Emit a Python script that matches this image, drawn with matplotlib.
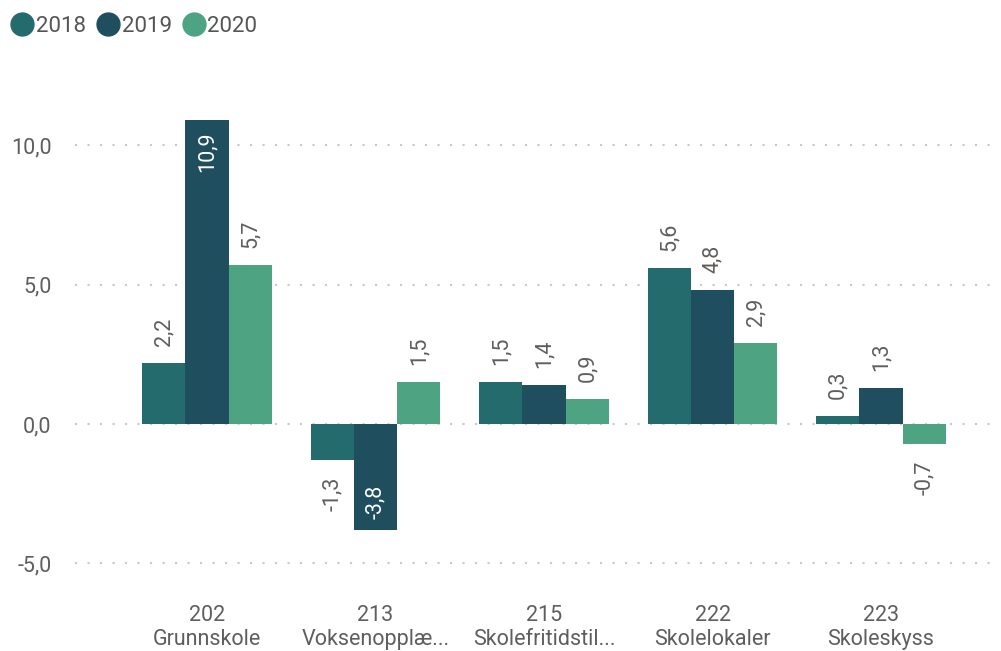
import matplotlib
matplotlib.use("Agg")
import matplotlib.pyplot as plt
from matplotlib.lines import Line2D
import numpy as np

categories = ["202\nGrunnskole", "213\nVoksenopplæ...", "215\nSkolefritidstil...",
              "222\nSkolelokaler", "223\nSkoleskyss"]
years = ["2018", "2019", "2020"]
v2018 = [2.2, -1.3, 1.5, 5.6, 0.3]
v2019 = [10.9, -3.8, 1.4, 4.8, 1.3]
v2020 = [5.7, 1.5, 0.9, 2.9, -0.7]
yticks = [-5, 0, 5, 10]

colors = ["#246B6E", "#1F4E5F", "#4EA383"]
series = [v2018, v2019, v2020]

plt.rcParams['font.family'] = ['Roboto', 'DejaVu Sans']
fig = plt.figure(figsize=(10.01, 6.51), dpi=100)
ax = fig.add_axes([75/1001, 1-590/651, 925/1001, 510/651])

x = np.arange(len(categories))
w = 0.257
txt = "#605E5C"
for i, (vals, c) in enumerate(zip(series, colors)):
    xs = x + (i - 1) * w
    ax.bar(xs, vals, width=w, color=c, zorder=3)
    for xi, v in zip(xs, vals):
        s = f"{v:.1f}".replace(".", ",")
        inside = v > 10 or v < -3
        if inside:
            va = "top" if v > 0 else "bottom"
            off = -8 if v > 0 else 8
            col = "white"
        else:
            va = "bottom" if v >= 0 else "top"
            off = 12 if v >= 0 else -12
            col = txt
        ax.annotate(s, (xi, v), xytext=(0, off), textcoords="offset points",
                    rotation=90, ha="center", va=va, color=col, fontsize=15.5, zorder=4)

ax.set_xlim(-0.783, 4.706)
ax.set_ylim(-5.95, 12.33)
ax.set_yticks(yticks)
ax.set_yticklabels([f"{t:.1f}".replace(".", ",") for t in yticks], fontsize=15.5, color=txt)
ax.set_xticks(x)
ax.set_xticklabels(categories, fontsize=15.5, color=txt, linespacing=1.2)
ax.tick_params(axis="both", length=0)
ax.tick_params(axis="x", pad=11)
ax.tick_params(axis="y", pad=17)
ax.grid(axis="y", color="#C8C8C8", linestyle=(0, (1, 5)), linewidth=1.5, zorder=0)
for sp in ax.spines.values():
    sp.set_visible(False)

handles = [Line2D([], [], marker="o", linestyle="none", markersize=16.5, color=c) for c in colors]
fig.legend(handles, years, loc="upper left", bbox_to_anchor=(0.014, 0.975), ncol=3, frameon=False,
           handletextpad=0.25, columnspacing=0.6, fontsize=16, labelcolor="#555555",
           borderaxespad=0, borderpad=0, handlelength=0.75)

fig.savefig("out.png", dpi=100)
